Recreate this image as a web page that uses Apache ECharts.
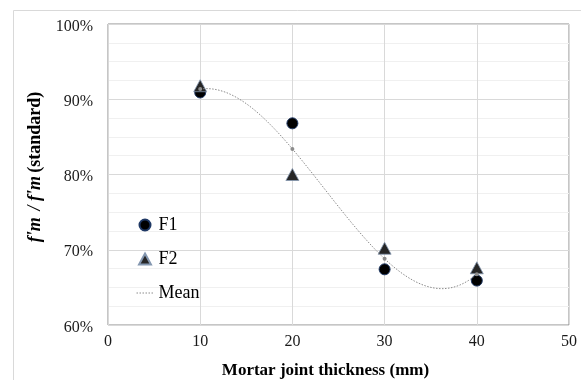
<!DOCTYPE html>
<html>
<head>
<meta charset="utf-8">
<script src="https://cdn.jsdelivr.net/npm/echarts@6/dist/echarts.min.js"></script>
<style>html,body{margin:0;padding:0;background:#fff}#c{width:581px;height:380px}</style>
</head>
<body>
<div id="c"></div>
<script>
var thickness = [10, 20, 30, 40];
var f1 = [90.9, 86.8, 67.4, 65.9];
var f2 = [91.8, 80.0, 70.2, 67.6];
var meanVals = [91.35, 83.4, 68.8, 66.75];
var xTicks = [0, 10, 20, 30, 40, 50];
var yTicks = [60, 70, 80, 90, 100];

function pairs(xs, ys) { return xs.map(function (x, i) { return [x, ys[i]]; }); }

// Cubic trendline through the four mean points, expressed as one Bezier
// (control points from the data; mapped to pixels by the axes).
function bezierCtrl(v) {
  return [v[0],
    (-5 * v[0] + 18 * v[1] - 9 * v[2] + 2 * v[3]) / 6,
    (2 * v[0] - 9 * v[1] + 18 * v[2] - 5 * v[3]) / 6,
    v[3]];
}

var FONT = 'Liberation Serif';
var GRAY = '#8c8c8c';
var chart = echarts.init(document.getElementById('c'), null, { renderer: 'canvas' });
chart.setOption({
  animation: false,
  backgroundColor: '#fff',
  graphic: [{
    type: 'rect', left: 11, top: 8, silent: true, z: -10,
    shape: { width: 640, height: 420 },
    style: { fill: 'none', stroke: '#d9d9d9', lineWidth: 1 }
  }],
  grid: {
    left: 108, right: 12, top: 24, bottom: 55, show: true, borderColor: GRAY, borderWidth: 1,
    containLabel: false, outerBoundsMode: 'none'
  },
  legend: {
    orient: 'vertical', left: 131, top: 211, itemWidth: 17, itemHeight: 11, itemGap: 16,
    symbolKeepAspect: true,
    textStyle: { fontFamily: FONT, fontSize: 18, color: '#000' },
    data: [
      { name: 'F1' },
      { name: 'F2', icon: 'path://M6.5,0L13,12L0,12Z' },
      {
        name: 'Mean',
        itemStyle: { color: 'transparent', borderColor: 'transparent' },
        lineStyle: { color: GRAY, width: 1, type: [1.5, 1.5], opacity: 1 }
      }
    ]
  },
  xAxis: {
    type: 'value', min: xTicks[0], max: xTicks[xTicks.length - 1], interval: 10,
    axisLine: { show: false }, axisTick: { show: false },
    axisLabel: { fontFamily: FONT, fontSize: 16, color: '#1a1a1a', margin: 9 },
    splitLine: { show: true, lineStyle: { color: '#d9d9d9', width: 1 } },
    name: 'Mortar joint thickness (mm)', nameLocation: 'middle', nameGap: 37,
    nameTextStyle: { fontFamily: FONT, fontSize: 17, fontWeight: 'bold', color: '#000', padding: [0, 26, 0, 0] }
  },
  yAxis: {
    type: 'value', min: yTicks[0], max: yTicks[yTicks.length - 1], interval: 10,
    axisLine: { show: false }, axisTick: { show: false },
    axisLabel: {
      margin: 15,
      formatter: function (v) { return '{a|' + v + '%}'; },
      rich: { a: { fontFamily: FONT, fontSize: 16, color: '#1a1a1a', padding: [5, 0, 0, 0] } }
    },
    splitLine: { show: true, lineStyle: { color: '#d9d9d9', width: 1 } },
    minorTick: { show: false, splitNumber: 4 },
    minorSplitLine: { show: true, lineStyle: { color: '#f0f0f0', width: 1 } },
    name: "{i|f'm}  {i|/ f'm} {b|(standard)}", nameLocation: 'middle', nameGap: 55,
    nameTextStyle: {
      color: '#000', padding: [0, 0, 0, 15],
      rich: {
        i: { fontFamily: FONT, fontSize: 18, fontWeight: 'bold', fontStyle: 'italic', color: '#000' },
        b: { fontFamily: FONT, fontSize: 18, fontWeight: 'bold', color: '#000' }
      }
    }
  },
  series: [
    {
      name: 'F1', type: 'scatter', symbol: 'circle', symbolSize: 11, z: 3,
      itemStyle: { color: '#000', borderColor: '#1f3864', borderWidth: 1, opacity: 1 },
      data: pairs(thickness, f1)
    },
    {
      name: 'F2', type: 'scatter', symbol: 'triangle', symbolSize: [13, 12], z: 3,
      itemStyle: { color: '#262626', borderColor: '#8497b0', borderWidth: 0.8, opacity: 1 },
      data: pairs(thickness, f2)
    },
    {
      name: 'Mean trend', type: 'custom', z: 4, silent: true,
      data: pairs(thickness, meanVals),
      renderItem: function (params, api) {
        if (params.dataIndex !== 0) return { type: 'group', children: [] };
        var cx = bezierCtrl(thickness), cy = bezierCtrl(meanVals);
        var p = [0, 1, 2, 3].map(function (k) { return api.coord([cx[k], cy[k]]); });
        return {
          type: 'bezierCurve',
          shape: { x1: p[0][0], y1: p[0][1], cpx1: p[1][0], cpy1: p[1][1], cpx2: p[2][0], cpy2: p[2][1], x2: p[3][0], y2: p[3][1] },
          style: { fill: 'none', stroke: GRAY, lineWidth: 1, lineDash: [1.5, 1.5] }
        };
      }
    },
    {
      name: 'Mean', type: 'line', symbol: 'circle', symbolSize: 4, z: 5, showSymbol: true,
      lineStyle: { color: GRAY, width: 1, opacity: 0 },
      itemStyle: { color: GRAY, borderWidth: 0 },
      data: pairs(thickness, meanVals)
    }
  ]
});
</script>
</body>
</html>
